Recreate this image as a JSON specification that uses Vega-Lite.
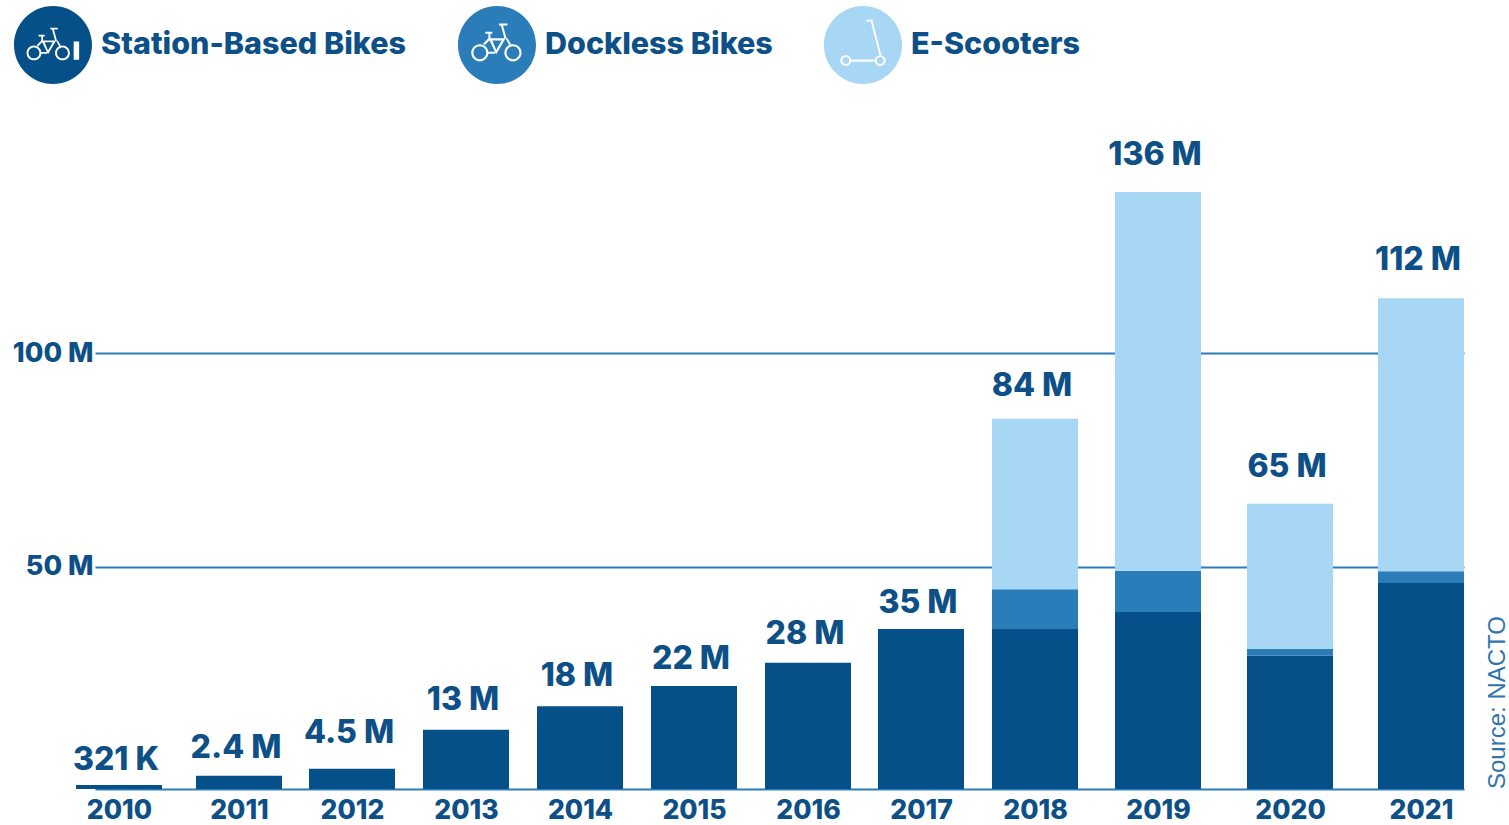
{
"$schema":"https://vega.github.io/schema/vega-lite/v6.json",
"width":1369,"height":789,
"autosize":{"type":"none"},
"padding":{"left":95,"top":0,"right":45,"bottom":36},
"background":"#ffffff",
"view":{"stroke":null},
"params":[
{"name":"stationIcon","value":"M0 -1A1 1 0 1 1 0 1A1 1 0 1 1 0 -1Z M-0.488 0.012A0.19 0.19 0 1 0 -0.488 0.392A0.19 0.19 0 1 0 -0.488 0.012Z M-0.488 0.062A0.14 0.14 0 1 1 -0.488 0.342A0.14 0.14 0 1 1 -0.488 0.062Z M0.243 0.012A0.19 0.19 0 1 0 0.243 0.392A0.19 0.19 0 1 0 0.243 0.012Z M0.243 0.062A0.14 0.14 0 1 1 0.243 0.342A0.14 0.14 0 1 1 0.243 0.062Z M-0.299 -0.116L-0.127 0.236L0.079 -0.116Z M-0.213 -0.069L-0.007 -0.069L-0.127 0.142Z M-0.299 0.18L-0.299 0.224L-0.153 0.224L-0.153 0.18Z M-0.299 -0.116L-0.42 0.004L-0.377 0.03L-0.278 -0.069Z M-0.368 -0.262L-0.368 -0.219L-0.299 -0.219L-0.299 -0.116L-0.256 -0.116L-0.256 -0.219L-0.213 -0.219L-0.213 -0.262Z M-0.024 -0.4L0.053 -0.116L0.101 -0.116L0.023 -0.4Z M0.079 -0.116L0.157 0.03L0.2 0.013L0.122 -0.116Z M-0.067 -0.443L-0.067 -0.4L0.122 -0.4L0.122 -0.443Z M0.53 -0.09L0.53 0.38L0.67 0.38L0.67 -0.09Z"},
{"name":"docklessIcon","value":"M0 -1A1 1 0 1 1 0 1A1 1 0 1 1 0 -1Z M-0.44 -0.02A0.22 0.22 0 1 0 -0.44 0.42A0.22 0.22 0 1 0 -0.44 -0.02Z M-0.44 0.035A0.165 0.165 0 1 1 -0.44 0.365A0.165 0.165 0 1 1 -0.44 0.035Z M0.41 -0.02A0.22 0.22 0 1 0 0.41 0.42A0.22 0.22 0 1 0 0.41 -0.02Z M0.41 0.035A0.165 0.165 0 1 1 0.41 0.365A0.165 0.165 0 1 1 0.41 0.035Z M-0.22 -0.17L-0.02 0.24L0.22 -0.17Z M-0.12 -0.115L0.12 -0.115L-0.02 0.13Z M-0.22 0.175L-0.22 0.225L-0.05 0.225L-0.05 0.175Z M-0.22 -0.17L-0.36 -0.03L-0.31 0L-0.195 -0.115Z M-0.3 -0.34L-0.3 -0.29L-0.22 -0.29L-0.22 -0.17L-0.17 -0.17L-0.17 -0.29L-0.12 -0.29L-0.12 -0.34Z M0.1 -0.5L0.19 -0.17L0.245 -0.17L0.155 -0.5Z M0.22 -0.17L0.31 0L0.36 -0.02L0.27 -0.17Z M0.05 -0.55L0.05 -0.5L0.27 -0.5L0.27 -0.55Z"},
{"name":"scooterIcon","value":"M0 -1A1 1 0 1 1 0 1A1 1 0 1 1 0 -1Z M-0.44 0.26A0.14 0.14 0 1 0 -0.44 0.54A0.14 0.14 0 1 0 -0.44 0.26Z M-0.44 0.31A0.09 0.09 0 1 1 -0.44 0.49A0.09 0.09 0 1 1 -0.44 0.31Z M0.44 0.26A0.14 0.14 0 1 0 0.44 0.54A0.14 0.14 0 1 0 0.44 0.26Z M0.44 0.31A0.09 0.09 0 1 1 0.44 0.49A0.09 0.09 0 1 1 0.44 0.31Z M-0.3 0.37L-0.3 0.43L0.3 0.43L0.3 0.37Z M0.2 -0.6L0.42 0.25L0.47 0.25L0.25 -0.6Z M0.08 -0.65L0.08 -0.6L0.25 -0.6L0.25 -0.65Z"}
],
"datasets":{
"bars":[
{"year":2010,"mode":"Station-Based Bikes","rank":1,"rides":0.9},
{"year":2011,"mode":"Station-Based Bikes","rank":1,"rides":3.0},
{"year":2012,"mode":"Station-Based Bikes","rank":1,"rides":4.6},
{"year":2013,"mode":"Station-Based Bikes","rank":1,"rides":13.5},
{"year":2014,"mode":"Station-Based Bikes","rank":1,"rides":18.9},
{"year":2015,"mode":"Station-Based Bikes","rank":1,"rides":23.5},
{"year":2016,"mode":"Station-Based Bikes","rank":1,"rides":28.8},
{"year":2017,"mode":"Station-Based Bikes","rank":1,"rides":36.5},
{"year":2018,"mode":"Station-Based Bikes","rank":1,"rides":36.5},
{"year":2018,"mode":"Dockless Bikes","rank":2,"rides":9.1},
{"year":2018,"mode":"E-Scooters","rank":3,"rides":38.9},
{"year":2019,"mode":"Station-Based Bikes","rank":1,"rides":40.4},
{"year":2019,"mode":"Dockless Bikes","rank":2,"rides":9.4},
{"year":2019,"mode":"E-Scooters","rank":3,"rides":86.5},
{"year":2020,"mode":"Station-Based Bikes","rank":1,"rides":30.4},
{"year":2020,"mode":"Dockless Bikes","rank":2,"rides":1.6},
{"year":2020,"mode":"E-Scooters","rank":3,"rides":33.1},
{"year":2021,"mode":"Station-Based Bikes","rank":1,"rides":47.0},
{"year":2021,"mode":"Dockless Bikes","rank":2,"rides":2.7},
{"year":2021,"mode":"E-Scooters","rank":3,"rides":62.3}
],
"totals":[
{"year":2010,"total":0.44,"label":"321 K"},
{"year":2011,"total":3.23,"label":"2.4 M"},
{"year":2012,"total":6.65,"label":"4.5 M"},
{"year":2013,"total":14.2,"label":"13 M"},
{"year":2014,"total":19.6,"label":"18 M"},
{"year":2015,"total":23.5,"label":"22 M"},
{"year":2016,"total":29.3,"label":"28 M"},
{"year":2017,"total":36.3,"label":"35 M"},
{"year":2018,"total":85.9,"label":"84 M"},
{"year":2019,"total":138.6,"label":"136 M"},
{"year":2020,"total":67.4,"label":"65 M"},
{"year":2021,"total":114.5,"label":"112 M"}
]},
"title":{"text":"Source: NACTO","orient":"right","anchor":"end","frame":"group","align":"left","angle":270,"font":"Liberation Sans","fontSize":24,"fontWeight":"normal","color":"#2f75ab","offset":10,"baseline":"middle"},
"encoding":{
"x":{"field":"year","type":"quantitative",
"scale":{"type":"linear","domain":[2009.8,2010,2011,2012,2013,2014,2015,2016,2017,2018,2019,2020,2021,2021.33],"range":[0,24,144,257,371,485,599,713,826,940,1063,1195,1326,1369],"nice":false,"zero":false,"padding":0},
"axis":{"title":null,"values":[2010,2011,2012,2013,2014,2015,2016,2017,2018,2019,2020,2021],"format":"d","labelAngle":0,"labelFont":"Inter","labelFontWeight":800,"labelFontSize":26.5,"labelColor":"#0d4f87","labelPadding":8,"ticks":false,"grid":false,"domainColor":"#2a7db8","domainWidth":2,"labelBaseline":"top","labelFlush":false,"labelOverlap":false}}
},
"layer":[
{"data":{"name":"bars"},
"mark":{"type":"bar","size":86,"orient":"vertical"},
"encoding":{
"y":{"field":"rides","type":"quantitative","stack":"zero",
"scale":{"domain":[0,180.1],"nice":false,"zero":true},
"axis":{"title":null,"values":[50.7,99.5],"labelExpr":"round(datum.value/50)*50 + ' M'","grid":true,"gridColor":"#2a7db8","gridWidth":2,"domain":false,"ticks":false,"labelFont":"Inter","labelFontWeight":800,"labelFontSize":27,"labelColor":"#0d4f87","labelPadding":2}},
"color":{"field":"mode","type":"nominal",
"scale":{"domain":["Station-Based Bikes","Dockless Bikes","E-Scooters"],"range":["#055088","#2a7db8","#a8d7f6"]},
"legend":{"title":null,"orient":"none","legendX":-81,"legendY":6,"direction":"horizontal","columns":3,"columnPadding":51,"gridAlign":"none","padding":0,"symbolSize":6084,"symbolStrokeWidth":0,"labelFont":"Inter","labelFontWeight":800,"labelFontSize":30.5,"labelColor":"#0d4f87","labelOffset":9,"labelLimit":400,
"encode":{"symbols":{"shape":{"signal":"datum.value==='Station-Based Bikes'?stationIcon:datum.value==='Dockless Bikes'?docklessIcon:scooterIcon"},"update":{"shape":{"signal":"datum.value==='Station-Based Bikes'?stationIcon:datum.value==='Dockless Bikes'?docklessIcon:scooterIcon"}}}}}},
"order":{"field":"rank","type":"quantitative"}
}},
{"data":{"name":"totals"},
"mark":{"type":"text","font":"Inter","fontWeight":800,"fontSize":32,"color":"#0d4f87","dx":-3,"dy":-10,"baseline":"bottom"},
"encoding":{
"y":{"field":"total","type":"quantitative"},
"text":{"field":"label","type":"nominal"}
}}
]
}
